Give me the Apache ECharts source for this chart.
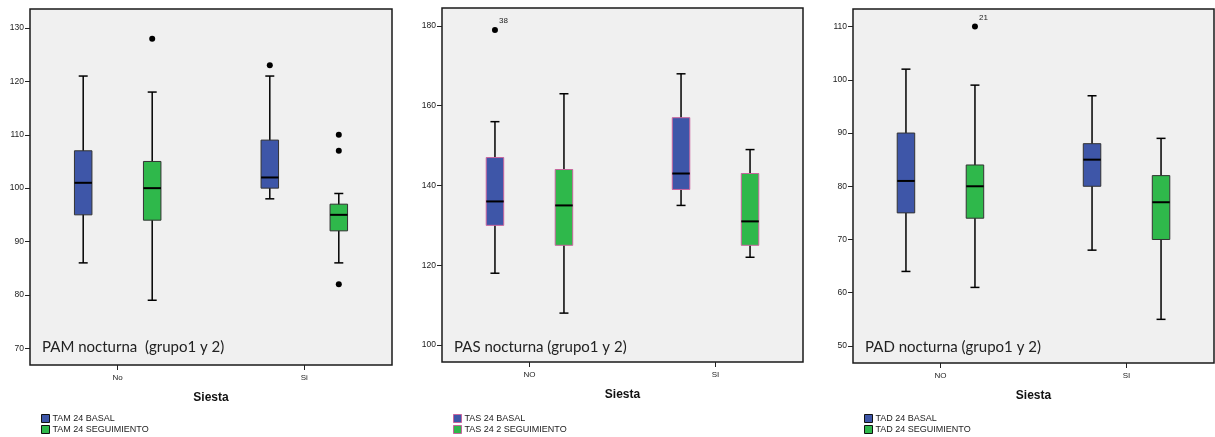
<!DOCTYPE html>
<html><head><meta charset="utf-8">
<script src="https://cdn.jsdelivr.net/npm/echarts@6/dist/echarts.min.js"></script>
<style>html,body{margin:0;padding:0;background:#fff}#c{width:1215px;height:437px}</style>
</head><body><div id="c"></div>
<script>
// ---------- data ----------
const catsPAM = ['No', 'Si'];
const catsPAS = ['NO', 'SI'];
const catsPAD = ['NO', 'SI'];
const ticksPAM = [70, 80, 90, 100, 110, 120, 130];
const ticksPAS = [100, 120, 140, 160, 180];
const ticksPAD = [50, 60, 70, 80, 90, 100, 110];
const titlePAM = 'PAM nocturna  (grupo1 y 2)';
const titlePAS = 'PAS nocturna (grupo1 y 2)';
const titlePAD = 'PAD nocturna (grupo1 y 2)';
const namesPAM = ['TAM 24 BASAL', 'TAM 24 SEGUIMIENTO'];
const namesPAS = ['TAS 24 BASAL', 'TAS 24 2 SEGUIMIENTO'];
const namesPAD = ['TAD 24 BASAL', 'TAD 24 SEGUIMIENTO'];
// [min, Q1, median, Q3, max] per category
const pamBasal = [[86, 95, 101, 107, 121], [98, 100, 102, 109, 121]];
const pamSeg   = [[79, 94, 100, 105, 118], [86, 92, 95, 97, 99]];
const pasBasal = [[118, 130, 136, 147, 156], [135, 139, 143, 157, 168]];
const pasSeg   = [[108, 125, 135, 144, 163], [122, 125, 131, 143, 149]];
const padBasal = [[64, 75, 81, 90, 102], [68, 80, 85, 88, 97]];
const padSeg   = [[61, 74, 80, 84, 99], [55, 70, 77, 82, 89]];
// outliers: [category index, value, case label]
const pamBasalOut = [[1, 123, '']];
const pamSegOut   = [[0, 128, ''], [1, 110, ''], [1, 107, ''], [1, 82, '']];
const pasBasalOut = [[0, 179, '38']];
const pasSegOut   = [];
const padBasalOut = [];
const padSegOut   = [[0, 110, '21']];

// ---------- styling / layout ----------
const BLUE = '#3e56a8', GREEN = '#2fb84b';
const FONT = 'Liberation Sans';
const panels = [
  { cats: catsPAM, ticks: ticksPAM, title: titlePAM, names: namesPAM, basal: pamBasal, seg: pamSeg,
    basalOut: pamBasalOut, segOut: pamSegOut, ymin: 66.87, ymax: 133.56, stroke: '#333',
    grid: { left: 30, width: 362, top: 9, height: 356 } },
  { cats: catsPAS, ticks: ticksPAS, title: titlePAS, names: namesPAS, basal: pasBasal, seg: pasSeg,
    basalOut: pasBasalOut, segOut: pasSegOut, ymin: 95.74, ymax: 184.5, stroke: '#c8649e',
    grid: { left: 442, width: 361, top: 8, height: 354 } },
  { cats: catsPAD, ticks: ticksPAD, title: titlePAD, names: namesPAD, basal: padBasal, seg: padSeg,
    basalOut: padBasalOut, segOut: padSegOut, ymin: 46.8, ymax: 113.3, stroke: '#333',
    grid: { left: 853, width: 361, top: 9, height: 354 } }
];
const OFF = 34.5, HALFW = 8.75, CAPW = 4.5;

function boxRender(offset, fill, stroke) {
  return function (params, api) {
    const c = api.value(0);
    const y = [1, 2, 3, 4, 5].map(i => api.coord([c, api.value(i)])[1]);
    const x = api.coord([c, api.value(1)])[0] + offset;
    const ls = { stroke: '#000', lineWidth: 1.5 };
    return { type: 'group', children: [
      { type: 'line', shape: { x1: x, y1: y[0], x2: x, y2: y[4] }, style: ls },
      { type: 'line', shape: { x1: x - CAPW, y1: y[0], x2: x + CAPW, y2: y[0] }, style: ls },
      { type: 'line', shape: { x1: x - CAPW, y1: y[4], x2: x + CAPW, y2: y[4] }, style: ls },
      { type: 'rect', shape: { x: x - HALFW, y: y[3], width: 2 * HALFW, height: y[1] - y[3] },
        style: { fill: fill, stroke: stroke, lineWidth: 1 } },
      { type: 'line', shape: { x1: x - HALFW, y1: y[2], x2: x + HALFW, y2: y[2] }, style: { stroke: '#000', lineWidth: 2 } }
    ] };
  };
}
function outRender(offset) {
  return function (params, api) {
    const pt = api.coord([api.value(0), api.value(1)]);
    const x = pt[0] + offset, y = pt[1];
    const lab = api.value(2);
    const ch = [{ type: 'circle', shape: { cx: x, cy: y, r: 3 }, style: { fill: '#000' } }];
    if (lab) ch.push({ type: 'text', x: x + 4, y: y - 5,
      style: { text: String(lab), fill: '#222', font: '8px ' + FONT, textVerticalAlign: 'bottom' } });
    return { type: 'group', children: ch };
  };
}

const option = { animation: false, grid: [], xAxis: [], yAxis: [], series: [], title: [], legend: [] };
panels.forEach((p, i) => {
  option.grid.push(Object.assign({ show: true, backgroundColor: '#f0f0f0', borderColor: '#1a1a1a', borderWidth: 1.5 }, p.grid));
  option.xAxis.push({
    type: 'value', gridIndex: i, min: -0.47, max: 1.47,
    axisLine: { show: false, onZero: false }, splitLine: { show: false },
    axisTick: { show: true, customValues: [0, 1], length: 5, lineStyle: { color: '#222', width: 1 } },
    axisLabel: { customValues: [0, 1], formatter: v => p.cats[Math.round(v)], fontSize: 8, color: '#222', fontFamily: FONT, margin: 9 },
    name: 'Siesta', nameLocation: 'middle', nameGap: 27,
    nameTextStyle: { fontWeight: 'bold', fontSize: 12, color: '#111', fontFamily: FONT }
  });
  option.yAxis.push({
    type: 'value', gridIndex: i, min: p.ymin, max: p.ymax,
    axisLine: { show: false, onZero: false }, splitLine: { show: false },
    axisTick: { show: true, customValues: p.ticks, length: 5, lineStyle: { color: '#222', width: 1 } },
    axisLabel: { customValues: p.ticks, fontSize: 8.5, color: '#222', fontFamily: FONT, margin: 6 }
  });
  const mk = arr => arr.map((v, k) => [k].concat(v));
  option.series.push({
    type: 'custom', name: p.names[0], xAxisIndex: i, yAxisIndex: i,
    itemStyle: { color: BLUE }, encode: { x: 0, y: [1, 2, 3, 4, 5] },
    renderItem: boxRender(-OFF, BLUE, p.stroke), data: mk(p.basal)
  });
  option.series.push({
    type: 'custom', name: p.names[1], xAxisIndex: i, yAxisIndex: i,
    itemStyle: { color: GREEN }, encode: { x: 0, y: [1, 2, 3, 4, 5] },
    renderItem: boxRender(OFF, GREEN, p.stroke), data: mk(p.seg)
  });
  option.series.push({
    type: 'custom', xAxisIndex: i, yAxisIndex: i, encode: { x: 0, y: 1 },
    renderItem: outRender(-OFF), data: p.basalOut
  });
  option.series.push({
    type: 'custom', xAxisIndex: i, yAxisIndex: i, encode: { x: 0, y: 1 },
    renderItem: outRender(OFF), data: p.segOut
  });
  option.title.push({
    text: p.title, left: p.grid.left + 12, top: 337, padding: 0,
    textStyle: { fontFamily: 'Lato', fontWeight: 'normal', fontSize: 15, color: '#222', lineHeight: 20 }
  });
  option.legend.push({
    orient: 'vertical', left: p.grid.left + 11, top: 414, itemWidth: 8, itemHeight: 8, itemGap: 2,
    icon: 'rect', padding: 0,
    textStyle: { fontSize: 9, color: '#222', fontFamily: FONT, lineHeight: 9, padding: [0, 0, 0, -2] },
    data: [
      { name: p.names[0], itemStyle: { color: BLUE, borderColor: p.stroke === '#333' ? '#111' : p.stroke, borderWidth: 1 } },
      { name: p.names[1], itemStyle: { color: GREEN, borderColor: p.stroke === '#333' ? '#111' : p.stroke, borderWidth: 1 } }
    ]
  });
});
const chart = echarts.init(document.getElementById('c'), null, { renderer: 'canvas' });
chart.setOption(option);
</script></body></html>
